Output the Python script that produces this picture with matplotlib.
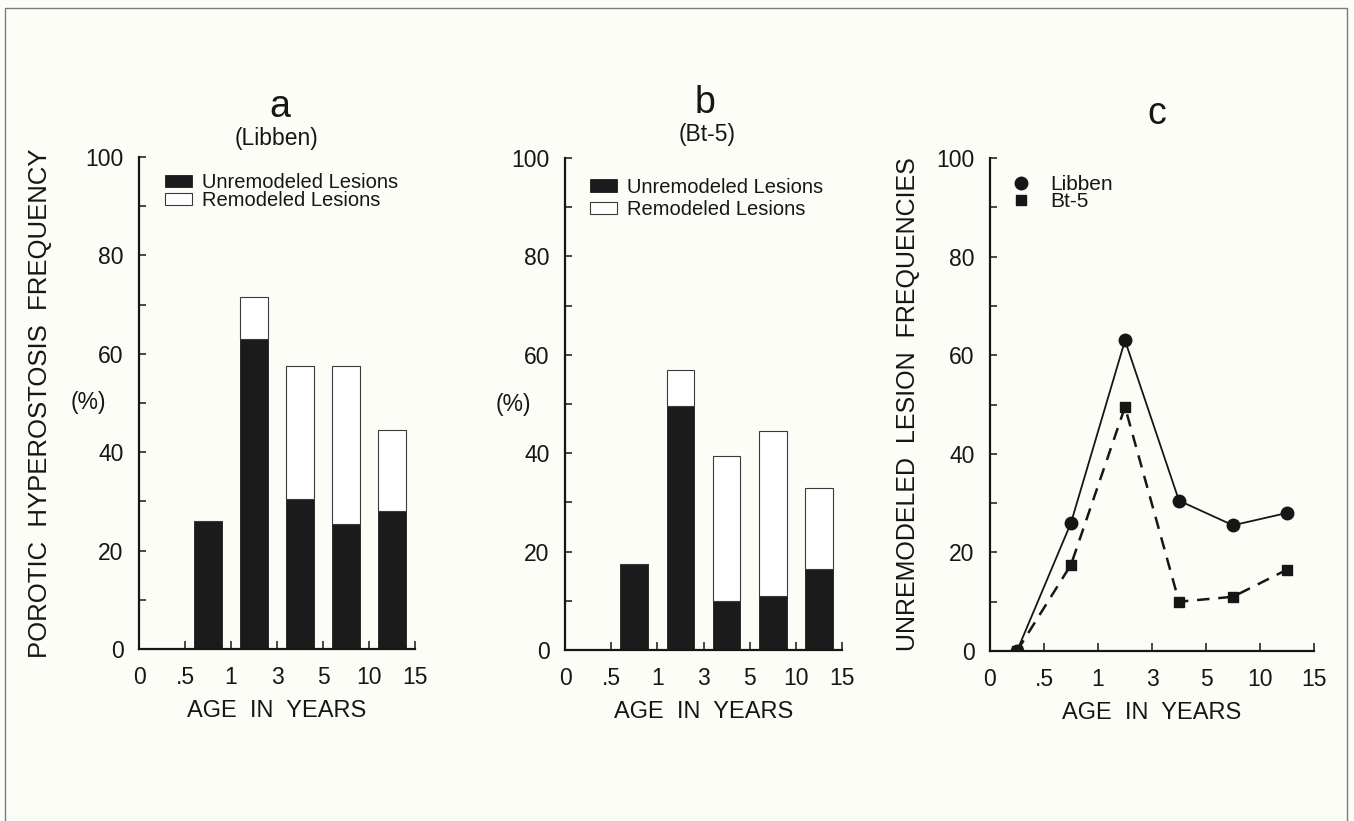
import matplotlib
matplotlib.use("Agg")
import matplotlib.pyplot as plt
from matplotlib.lines import Line2D
import numpy as np

plt.rcParams['font.family'] = ['Liberation Sans', 'DejaVu Sans']

######################################################################
# data
age_ticks = ['0', '.5', '1', '3', '5', '10', '15']
age_mid = np.arange(6) + 0.5          # age classes sit between ticks

libben_unrem = [0, 26, 63, 30.5, 25.5, 28]
libben_rem = [0, 0, 8.5, 27, 32, 16.5]

bt5_unrem = [0, 17.5, 49.5, 10, 11, 16.5]
bt5_rem = [0, 0, 7.5, 29.5, 33.5, 16.5]
######################################################################
INK = '#161616'
BG = '#fdfdf8'
W, H = 1354, 821

fig = plt.figure(figsize=(W / 100, H / 100), dpi=100, facecolor=BG)


def px_axes(x0, x1, y_top, y_bot):
    return fig.add_axes([x0 / W, 1 - y_bot / H, (x1 - x0) / W, (y_bot - y_top) / H])


def style_axes(ax):
    ax.set_facecolor('none')
    for s in ['top', 'right']:
        ax.spines[s].set_visible(False)
    for s in ['left', 'bottom']:
        ax.spines[s].set_linewidth(1.6)
        ax.spines[s].set_color(INK)
    ax.set_xlim(0, 6)
    ax.set_ylim(0, 100)
    ax.set_xticks(np.arange(7))
    ax.set_xticklabels(age_ticks)
    ax.set_yticks(np.arange(0, 101, 20))
    ax.set_yticks(np.arange(10, 100, 20), minor=True)
    ax.tick_params(axis='x', direction='in', length=6, width=1.1, pad=12.5,
                   labelsize=16.5, colors=INK)
    ax.tick_params(axis='y', which='both', direction='in', length=5, width=1.1,
                   pad=11, labelsize=16.5, colors=INK)
    ax.set_xlabel('AGE  IN  YEARS', fontsize=17, color=INK, labelpad=8)


def bar_panel(ax, unrem, rem, leg_xy, leg_space):
    b1 = ax.bar(age_mid, unrem, width=0.6, color='#1b1b1b', edgecolor='#1b1b1b',
                linewidth=0.6, label='Unremodeled Lesions')
    b2 = ax.bar(age_mid, rem, width=0.6, bottom=unrem, color='white',
                edgecolor='#3a3a3a', linewidth=0.8, label='Remodeled Lesions')
    ax.legend(handles=[b1, b2], loc='upper left', bbox_to_anchor=leg_xy,
              frameon=False, fontsize=14.5, handlelength=1.35, handleheight=0.55,
              handletextpad=0.5, labelspacing=leg_space, borderpad=0,
              borderaxespad=0, labelcolor=INK)
    ax.text(-0.185, 0.5, '(%)', transform=ax.transAxes, fontsize=16.5,
            color=INK, ha='center', va='center')


# panel a
ax_a = px_axes(139, 415, 157, 649)
style_axes(ax_a)
bar_panel(ax_a, libben_unrem, libben_rem, (0.094, 0.968), -0.05)
ax_a.set_ylabel('POROTIC  HYPEROSTOSIS  FREQUENCY', fontsize=18.5, color=INK)
ax_a.yaxis.set_label_coords(-0.315, 0.5)
fig.text(280 / W, 1 - 117 / H, 'a', fontsize=27, ha='center', va='baseline', color=INK)
fig.text(277 / W, 1 - 138 / H, '(Libben)', fontsize=16.5, ha='center', va='center', color=INK)

# panel b
ax_b = px_axes(565, 842, 158, 650)
style_axes(ax_b)
bar_panel(ax_b, bt5_unrem, bt5_rem, (0.09, 0.96), 0.15)
fig.text(705 / W, 1 - 113 / H, 'b', fontsize=27, ha='center', va='baseline', color=INK)
fig.text(707 / W, 1 - 134 / H, '(Bt-5)', fontsize=16.5, ha='center', va='center', color=INK)

# panel c
ax_c = px_axes(990, 1314, 158, 651)
style_axes(ax_c)
ax_c.plot(age_mid, libben_unrem, color=INK, linewidth=1.3, marker='o',
          markersize=9, markerfacecolor=INK, markeredgecolor=INK)
ax_c.plot(age_mid, bt5_unrem, color=INK, linewidth=1.8, linestyle=(0, (5, 3.5)),
          marker='s', markersize=7, markerfacecolor=INK, markeredgecolor=INK)
leg_handles = [Line2D([], [], linestyle='none', marker='o', markersize=9, color=INK),
               Line2D([], [], linestyle='none', marker='s', markersize=7, color=INK)]
ax_c.legend(leg_handles, ['Libben', 'Bt-5'], loc='upper left',
            bbox_to_anchor=(0.065, 0.965), frameon=False, fontsize=15,
            handlelength=1.0, handletextpad=0.9, labelspacing=-0.1,
            borderpad=0, borderaxespad=0, labelcolor=INK)
ax_c.set_ylabel('UNREMODELED  LESION  FREQUENCIES', fontsize=18, color=INK)
ax_c.yaxis.set_label_coords(-0.216, 0.5)
fig.text(1157 / W, 1 - 124 / H, 'c', fontsize=27, ha='center', va='baseline', color=INK)

# thin frame round the page
fig.add_artist(Line2D([5 / W, 5 / W, 1347 / W, 1347 / W],
                      [-0.01, 1 - 8 / H, 1 - 8 / H, -0.01],
                      transform=fig.transFigure, color='#7a7a7a', linewidth=1.0))

fig.savefig('out.png', dpi=100, facecolor=BG)
